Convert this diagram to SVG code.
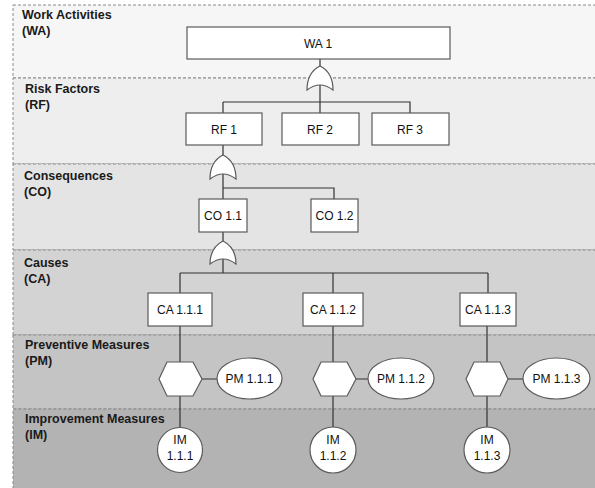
<svg xmlns="http://www.w3.org/2000/svg" width="595" height="488" viewBox="0 0 595 488">
<style>
.band{stroke:#8a8a8a;stroke-width:1;stroke-dasharray:3 2}
.lbl{font-family:"Liberation Sans",Arial,sans-serif;font-size:12.5px;font-weight:bold;fill:#1a1a1a}
.node{fill:#fff;stroke:#5a5a5a;stroke-width:1.2}
.txt{font-family:"Liberation Sans",Arial,sans-serif;font-size:12px;fill:#111;text-anchor:middle}
.con{stroke:#333;stroke-width:1.2;fill:none}
</style>
<rect width="595" height="488" fill="#fff"/>
<g id="bands">
<rect class="band" x="13" y="5" width="590" height="73" fill="#f6f6f6"/>
<rect class="band" x="13" y="78" width="590" height="86" fill="#eeeeee"/>
<rect class="band" x="13" y="164" width="590" height="86" fill="#e4e4e4"/>
<rect class="band" x="13" y="250" width="590" height="85" fill="#d3d3d3"/>
<rect class="band" x="13" y="335" width="590" height="74" fill="#c4c4c4"/>
<rect class="band" x="13" y="409" width="590" height="90" fill="#b3b3b3"/>
<text class="lbl" x="22" y="19">Work Activities</text>
<text class="lbl" x="22" y="35">(WA)</text>
<text class="lbl" x="25" y="93">Risk Factors</text>
<text class="lbl" x="25" y="109">(RF)</text>
<text class="lbl" x="24" y="180">Consequences</text>
<text class="lbl" x="24" y="196">(CO)</text>
<text class="lbl" x="24" y="267">Causes</text>
<text class="lbl" x="24" y="283">(CA)</text>
<text class="lbl" x="25" y="349">Preventive Measures</text>
<text class="lbl" x="25" y="365">(PM)</text>
<text class="lbl" x="25" y="423">Improvement Measures</text>
<text class="lbl" x="25" y="439">(IM)</text>
</g>
<g id="connectors">
<path class="con" d="M320 59V113M223 102H410V113M223 102V113"/>
<path class="con" d="M223 145V199M223 188H334V199"/>
<path class="con" d="M223 232V273M180 273H488M180 273V293M333 273V293M488 273V293"/>
<path class="con" d="M180 326V428M333 326V428M487 326V428"/>
<path class="con" d="M202 379H217M356 379H368M508 379H523"/>
</g>
<g id="gate1"><path class="node" d="M307 90C307 78 312 70 320 66C328 70 333 78 333 90Q320 80 307 90Z"/></g>
<g id="gate2"><path class="node" d="M210 179C210 167 215 159 223 155C231 159 236 167 236 179Q223 169 210 179Z"/></g>
<g id="gate3"><path class="node" d="M210 264C210 252 215 245 223 241C231 245 236 252 236 264Q223 254 210 264Z"/></g>
<g id="wa1"><rect class="node" x="187" y="27" width="263" height="32"/><text class="txt" x="318" y="47.5">WA 1</text></g>
<g id="rf1"><rect class="node" x="186" y="113" width="76" height="32"/><text class="txt" x="224" y="133.5">RF 1</text></g>
<g id="rf2"><rect class="node" x="282" y="113" width="77" height="32"/><text class="txt" x="320" y="133.5">RF 2</text></g>
<g id="rf3"><rect class="node" x="372" y="113" width="77" height="32"/><text class="txt" x="410" y="133.5">RF 3</text></g>
<g id="co11"><rect class="node" x="199" y="199" width="48" height="33"/><text class="txt" x="223" y="220">CO 1.1</text></g>
<g id="co12"><rect class="node" x="311" y="199" width="47" height="33"/><text class="txt" x="334.5" y="220">CO 1.2</text></g>
<g id="ca111"><rect class="node" x="148" y="293" width="64" height="33"/><text class="txt" x="180" y="314">CA 1.1.1</text></g>
<g id="ca112"><rect class="node" x="303" y="293" width="60" height="33"/><text class="txt" x="333" y="314">CA 1.1.2</text></g>
<g id="ca113"><rect class="node" x="460" y="293" width="56" height="33"/><text class="txt" x="488" y="314">CA 1.1.3</text></g>
<g id="hex1"><polygon class="node" points="159,379 167,362 193,362 202,379 193,396 167,396"/></g>
<g id="hex2"><polygon class="node" points="313,379 321,362 347,362 356,379 347,396 321,396"/></g>
<g id="hex3"><polygon class="node" points="466,379 474,362 500,362 508,379 500,396 474,396"/></g>
<g id="pm111"><ellipse class="node" cx="249.5" cy="378.5" rx="32.5" ry="20.5"/><text class="txt" x="249.5" y="383">PM 1.1.1</text></g>
<g id="pm112"><ellipse class="node" cx="401" cy="378.5" rx="33" ry="20.5"/><text class="txt" x="401" y="383">PM 1.1.2</text></g>
<g id="pm113"><ellipse class="node" cx="556.5" cy="378.5" rx="33.5" ry="20.5"/><text class="txt" x="556.5" y="383">PM 1.1.3</text></g>
<g id="im111"><circle class="node" cx="180" cy="450" r="22.5"/><text class="txt" x="180" y="444">IM</text><text class="txt" x="180" y="460">1.1.1</text></g>
<g id="im112"><circle class="node" cx="333" cy="450" r="23"/><text class="txt" x="333" y="444">IM</text><text class="txt" x="333" y="460">1.1.2</text></g>
<g id="im113"><circle class="node" cx="487" cy="450" r="23"/><text class="txt" x="487" y="444">IM</text><text class="txt" x="487" y="460">1.1.3</text></g>
</svg>
